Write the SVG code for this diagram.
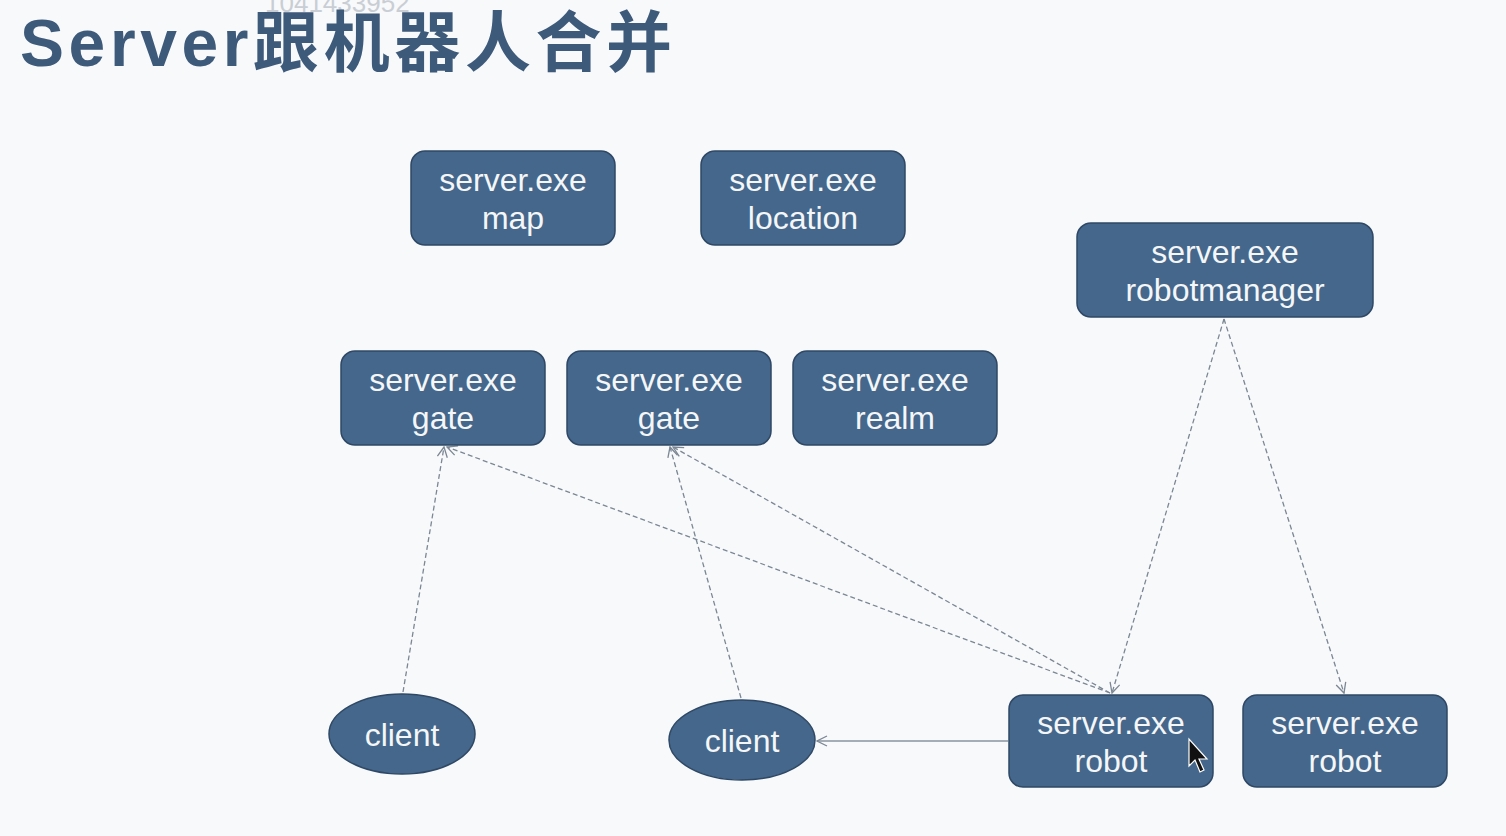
<svg xmlns="http://www.w3.org/2000/svg" width="1506" height="836" viewBox="0 0 1506 836">
<defs>
<style>
.box{fill:#44678b;stroke:#2e4865;stroke-width:1.5}
.lbl{font-family:"Liberation Sans",Arial,sans-serif;font-size:32px;fill:#f4f6f8;text-anchor:middle}
.edge{fill:none;stroke:#7c8794;stroke-width:1.3;stroke-dasharray:5 3}
.solid{fill:none;stroke:#8a949f;stroke-width:1.3}
</style>
<marker id="ah" viewBox="0 0 12 12" refX="11" refY="6" markerWidth="12" markerHeight="12" markerUnits="userSpaceOnUse" orient="auto">
<path d="M1,1 L11,6 L1,11" fill="none" stroke="#7c8794" stroke-width="1.3"/>
</marker>
</defs>
<rect width="1506" height="836" fill="#f8f9fb"/>
<text x="265" y="12" font-family="Liberation Sans,Arial,sans-serif" font-size="26" fill="#c9ced4">1041433952</text>
<text x="20" y="66" font-family="'Liberation Sans','Noto Sans CJK SC',sans-serif" font-size="66" font-weight="bold" fill="#3e5a7a" letter-spacing="4.6">Server跟机器人合并</text>
<g id="connectors">
<line class="edge" x1="403" y1="692" x2="444" y2="447" marker-end="url(#ah)"/>
<line class="edge" x1="741" y1="698" x2="670" y2="447" marker-end="url(#ah)"/>
<line class="edge" x1="1110" y1="693" x2="447" y2="447" marker-end="url(#ah)"/>
<line class="edge" x1="1110" y1="693" x2="673" y2="447" marker-end="url(#ah)"/>
<line class="edge" x1="1224" y1="319" x2="1112" y2="693" marker-end="url(#ah)"/>
<line class="edge" x1="1224" y1="319" x2="1344" y2="693" marker-end="url(#ah)"/>
<line class="solid" x1="1008" y1="741" x2="817" y2="741" marker-end="url(#ah)"/>
</g>
<g id="map"><rect class="box" x="411" y="151" width="204" height="94" rx="14"/><text class="lbl" x="513" y="191">server.exe</text><text class="lbl" x="513" y="229">map</text></g>
<g id="location"><rect class="box" x="701" y="151" width="204" height="94" rx="14"/><text class="lbl" x="803" y="191">server.exe</text><text class="lbl" x="803" y="229">location</text></g>
<g id="robotmanager"><rect class="box" x="1077" y="223" width="296" height="94" rx="14"/><text class="lbl" x="1225" y="263">server.exe</text><text class="lbl" x="1225" y="301">robotmanager</text></g>
<g id="gate1"><rect class="box" x="341" y="351" width="204" height="94" rx="14"/><text class="lbl" x="443" y="391">server.exe</text><text class="lbl" x="443" y="429">gate</text></g>
<g id="gate2"><rect class="box" x="567" y="351" width="204" height="94" rx="14"/><text class="lbl" x="669" y="391">server.exe</text><text class="lbl" x="669" y="429">gate</text></g>
<g id="realm"><rect class="box" x="793" y="351" width="204" height="94" rx="14"/><text class="lbl" x="895" y="391">server.exe</text><text class="lbl" x="895" y="429">realm</text></g>
<g id="robot1"><rect class="box" x="1009" y="695" width="204" height="92" rx="14"/><text class="lbl" x="1111" y="734">server.exe</text><text class="lbl" x="1111" y="772">robot</text></g>
<g id="robot2"><rect class="box" x="1243" y="695" width="204" height="92" rx="14"/><text class="lbl" x="1345" y="734">server.exe</text><text class="lbl" x="1345" y="772">robot</text></g>
<g id="client1"><ellipse class="box" cx="402" cy="734" rx="73" ry="40"/><text class="lbl" x="402" y="746">client</text></g>
<g id="client2"><ellipse class="box" cx="742" cy="740" rx="73" ry="40"/><text class="lbl" x="742" y="752">client</text></g>
<path d="M1189,739 L1189,766 L1195,760 L1200,772 L1204,770 L1199,759 L1207,759 Z" fill="#111" stroke="#fff" stroke-width="1.2"/>
</svg>
